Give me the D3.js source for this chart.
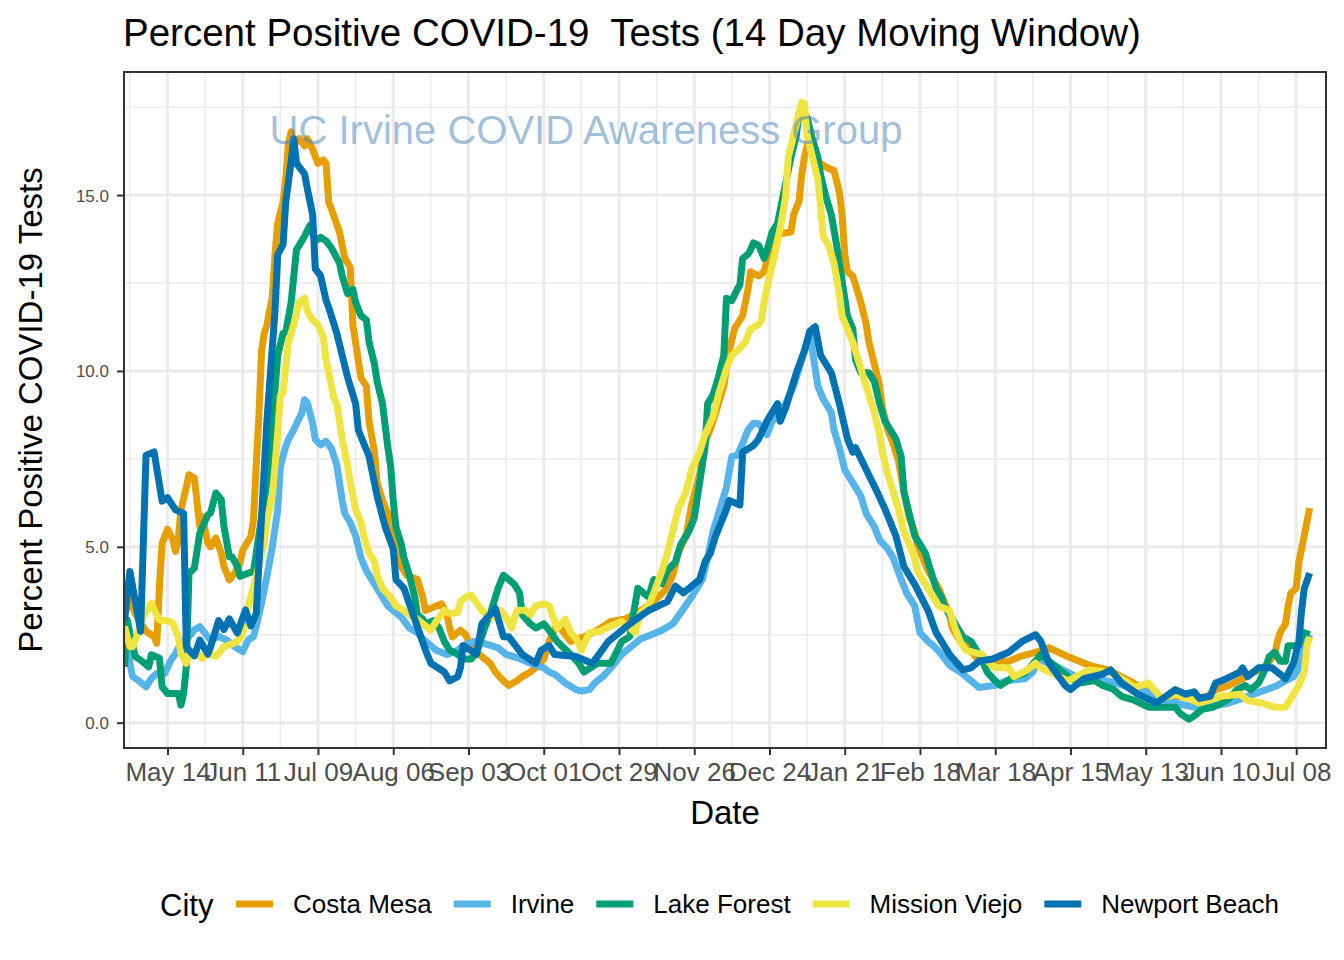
<!DOCTYPE html>
<html><head><meta charset="utf-8">
<script src="https://cdn.jsdelivr.net/npm/d3@7"></script>
<style>
body{margin:0;background:#fff}
text{font-family:"Liberation Sans",Arial,Helvetica,sans-serif}
</style>
</head><body>
<svg id="chart" width="1344" height="960"></svg>
<script>
const cities = ["Costa Mesa","Irvine","Lake Forest","Mission Viejo","Newport Beach"];
const cityColors = ["#E69F00","#56B4E9","#009E73","#F0E442","#0072B2"];

const costaMesa = [["2020-04-28",3.1],["2020-04-30",3.5],["2020-05-02",3.1],["2020-05-06",2.6],["2020-05-09",2.45],["2020-05-10",2.26],["2020-05-11",3.87],["2020-05-12",5.1],["2020-05-14",5.5],["2020-05-16",5.2],["2020-05-17",4.87],["2020-05-18",5.2],["2020-05-19",6.05],["2020-05-21",6.7],["2020-05-22",7.05],["2020-05-24",6.95],["2020-05-26",5.58],["2020-05-27",5.86],["2020-05-29",5.1],["2020-05-30",5.0],["2020-06-01",5.25],["2020-06-03",4.82],["2020-06-04",4.44],["2020-06-06",4.06],["2020-06-08",4.25],["2020-06-10",4.54],["2020-06-11",4.91],["2020-06-14",5.29],["2020-06-15",5.77],["2020-06-16",7.29],["2020-06-17",8.7],["2020-06-18",10.57],["2020-06-19",11.07],["2020-06-20",11.3],["2020-06-22",12.1],["2020-06-23",13.3],["2020-06-24",14.2],["2020-06-26",14.8],["2020-06-27",15.45],["2020-06-28",16.45],["2020-06-29",16.8],["2020-06-30",16.45],["2020-07-02",16.6],["2020-07-04",16.4],["2020-07-05",16.6],["2020-07-07",16.3],["2020-07-08",16.1],["2020-07-09",15.9],["2020-07-11",16.0],["2020-07-12",15.9],["2020-07-13",14.8],["2020-07-14",14.6],["2020-07-17",13.95],["2020-07-19",13.2],["2020-07-21",12.95],["2020-07-22",11.3],["2020-07-23",10.8],["2020-07-25",9.8],["2020-07-27",9.57],["2020-07-28",8.57],["2020-07-30",7.7],["2020-07-31",6.82],["2020-08-02",6.32],["2020-08-04",5.94],["2020-08-06",5.32],["2020-08-08",4.94],["2020-08-09",4.44],["2020-08-11",4.19],["2020-08-15",4.07],["2020-08-17",3.57],["2020-08-18",3.19],["2020-08-24",3.38],["2020-08-26",3.07],["2020-08-27",2.69],["2020-08-28",2.44],["2020-08-31",2.63],["2020-09-02",2.5],["2020-09-03",2.31],["2020-09-05",2.06],["2020-09-08",1.88],["2020-09-11",1.69],["2020-09-13",1.44],["2020-09-16",1.19],["2020-09-18",1.06],["2020-09-21",1.19],["2020-09-23",1.31],["2020-09-26",1.44],["2020-09-28",1.56],["2020-10-01",1.81],["2020-10-02",2.06],["2020-10-03",2.31],["2020-10-06",2.81],["2020-10-11",2.31],["2020-10-16",2.44],["2020-10-21",2.63],["2020-10-26",2.88],["2020-10-31",2.94],["2020-11-05",3.13],["2020-11-10",3.38],["2020-11-15",3.75],["2020-11-18",4.19],["2020-11-20",4.82],["2020-11-23",5.32],["2020-11-25",6.19],["2020-11-28",7.07],["2020-11-30",7.94],["2020-12-03",8.57],["2020-12-05",9.07],["2020-12-07",9.57],["2020-12-09",10.57],["2020-12-11",11.2],["2020-12-14",11.57],["2020-12-16",12.32],["2020-12-17",12.82],["2020-12-20",12.7],["2020-12-22",12.82],["2020-12-25",13.7],["2020-12-28",13.9],["2021-01-01",13.95],["2021-01-02",14.45],["2021-01-04",14.83],["2021-01-05",15.58],["2021-01-06",16.08],["2021-01-08",16.7],["2021-01-09",16.33],["2021-01-11",15.95],["2021-01-15",15.76],["2021-01-17",15.7],["2021-01-19",15.08],["2021-01-20",14.45],["2021-01-21",13.32],["2021-01-22",12.82],["2021-01-24",12.7],["2021-01-25",12.45],["2021-01-27",11.95],["2021-01-29",11.32],["2021-01-30",10.82],["2021-02-01",10.2],["2021-02-03",9.57],["2021-02-04",8.95],["2021-02-06",8.32],["2021-02-08",7.94],["2021-02-10",7.44],["2021-02-12",6.57],["2021-02-14",5.82],["2021-02-16",5.44],["2021-02-17",5.07],["2021-02-19",4.69],["2021-02-21",4.32],["2021-02-23",4.07],["2021-02-25",3.82],["2021-02-27",3.44],["2021-03-01",3.07],["2021-03-02",2.69],["2021-03-05",2.31],["2021-03-07",2.19],["2021-03-10",1.94],["2021-03-12",1.75],["2021-03-17",1.75],["2021-03-23",1.75],["2021-03-28",1.9],["2021-04-02",2.0],["2021-04-07",2.13],["2021-04-14",1.88],["2021-04-22",1.63],["2021-04-29",1.5],["2021-05-07",1.19],["2021-05-14",0.88],["2021-05-20",0.69],["2021-05-26",0.75],["2021-05-31",0.69],["2021-06-05",0.75],["2021-06-08",0.94],["2021-06-13",1.06],["2021-06-18",1.25],["2021-06-22",1.44],["2021-06-25",1.5],["2021-06-27",1.65],["2021-06-30",1.94],["2021-07-01",2.31],["2021-07-02",2.56],["2021-07-04",2.81],["2021-07-05",3.32],["2021-07-06",3.69],["2021-07-08",3.82],["2021-07-09",4.57],["2021-07-11",5.32],["2021-07-13",6.1]];

const irvine = [["2020-04-28",2.64],["2020-04-30",1.69],["2020-05-01",1.31],["2020-05-03",1.21],["2020-05-06",1.02],["2020-05-08",1.26],["2020-05-10",1.4],["2020-05-13",1.4],["2020-05-15",1.74],["2020-05-17",1.97],["2020-05-19",2.26],["2020-05-22",2.45],["2020-05-24",2.64],["2020-05-26",2.73],["2020-05-28",2.54],["2020-05-30",2.35],["2020-06-02",2.45],["2020-06-05",2.35],["2020-06-08",2.16],["2020-06-11",2.02],["2020-06-13",2.35],["2020-06-15",2.45],["2020-06-16",2.73],["2020-06-18",3.4],["2020-06-20",4.16],["2020-06-22",5.0],["2020-06-24",6.05],["2020-06-25",7.29],["2020-06-27",7.86],["2020-06-28",8.05],["2020-06-30",8.33],["2020-07-02",8.66],["2020-07-03",8.8],["2020-07-04",9.18],["2020-07-05",9.1],["2020-07-07",8.52],["2020-07-08",8.05],["2020-07-10",7.9],["2020-07-12",8.0],["2020-07-14",7.8],["2020-07-16",7.32],["2020-07-18",6.32],["2020-07-19",5.94],["2020-07-21",5.69],["2020-07-23",5.32],["2020-07-25",4.69],["2020-07-27",4.32],["2020-07-30",3.94],["2020-08-01",3.69],["2020-08-04",3.32],["2020-08-06",3.19],["2020-08-09",3.0],["2020-08-12",2.69],["2020-08-15",2.56],["2020-08-17",2.38],["2020-08-20",2.19],["2020-08-22",2.06],["2020-08-26",1.94],["2020-08-30",2.06],["2020-09-01",2.19],["2020-09-05",2.31],["2020-09-09",2.25],["2020-09-14",2.13],["2020-09-17",1.94],["2020-09-21",1.85],["2020-09-26",1.69],["2020-10-01",1.56],["2020-10-03",1.44],["2020-10-05",1.38],["2020-10-09",1.13],["2020-10-13",0.94],["2020-10-15",0.9],["2020-10-18",0.94],["2020-10-20",1.13],["2020-10-23",1.31],["2020-10-26",1.56],["2020-10-30",1.94],["2020-11-03",2.19],["2020-11-06",2.38],["2020-11-10",2.5],["2020-11-14",2.63],["2020-11-18",2.81],["2020-11-21",3.13],["2020-11-25",3.57],["2020-11-29",4.07],["2020-12-01",4.69],["2020-12-03",5.44],["2020-12-05",5.94],["2020-12-08",6.69],["2020-12-10",7.57],["2020-12-12",7.6],["2020-12-14",7.94],["2020-12-16",8.32],["2020-12-18",8.51],["2020-12-20",8.5],["2020-12-23",8.19],["2020-12-25",8.57],["2020-12-28",8.82],["2020-12-30",9.07],["2021-01-02",9.57],["2021-01-04",10.07],["2021-01-07",10.82],["2021-01-08",11.07],["2021-01-09",10.57],["2021-01-11",9.57],["2021-01-13",9.2],["2021-01-16",8.82],["2021-01-17",8.32],["2021-01-19",7.82],["2021-01-21",7.19],["2021-01-24",6.82],["2021-01-27",6.44],["2021-01-29",5.94],["2021-02-01",5.57],["2021-02-03",5.19],["2021-02-06",4.94],["2021-02-08",4.69],["2021-02-11",4.07],["2021-02-13",3.69],["2021-02-16",3.32],["2021-02-18",2.56],["2021-02-21",2.31],["2021-02-23",2.19],["2021-02-26",1.94],["2021-03-01",1.63],["2021-03-05",1.44],["2021-03-09",1.19],["2021-03-12",1.0],["2021-03-18",1.06],["2021-03-22",1.19],["2021-03-29",1.25],["2021-04-01",1.44],["2021-04-03",1.81],["2021-04-09",1.63],["2021-04-17",1.31],["2021-04-24",1.25],["2021-05-02",1.13],["2021-05-09",0.94],["2021-05-13",0.88],["2021-05-17",0.69],["2021-05-24",0.56],["2021-05-31",0.44],["2021-06-05",0.44],["2021-06-09",0.5],["2021-06-13",0.56],["2021-06-18",0.69],["2021-06-22",0.81],["2021-06-27",0.94],["2021-07-01",1.06],["2021-07-04",1.19],["2021-07-07",1.31],["2021-07-09",1.56],["2021-07-11",2.06],["2021-07-13",2.5]];

const lakeForest = [["2020-04-28",1.59],["2020-04-29",2.92],["2020-04-30",2.54],["2020-05-02",1.88],["2020-05-04",1.78],["2020-05-07",1.59],["2020-05-08",1.93],["2020-05-11",1.83],["2020-05-12",1.02],["2020-05-14",0.83],["2020-05-18",0.83],["2020-05-19",0.5],["2020-05-20",0.83],["2020-05-21",1.59],["2020-05-22",4.25],["2020-05-24",4.39],["2020-05-26",5.39],["2020-05-29",5.91],["2020-05-30",5.96],["2020-06-01",6.53],["2020-06-03",6.34],["2020-06-04",5.58],["2020-06-06",4.72],["2020-06-07",4.72],["2020-06-09",4.44],["2020-06-10",4.16],["2020-06-13",4.25],["2020-06-15",4.3],["2020-06-19",6.34],["2020-06-21",7.29],["2020-06-22",8.5],["2020-06-24",10.45],["2020-06-26",11.07],["2020-06-27",11.1],["2020-06-29",11.95],["2020-07-01",13.45],["2020-07-02",13.57],["2020-07-04",13.83],["2020-07-06",14.14],["2020-07-08",13.7],["2020-07-10",13.8],["2020-07-12",13.7],["2020-07-14",13.5],["2020-07-17",13.07],["2020-07-18",12.7],["2020-07-20",12.2],["2020-07-22",12.32],["2020-07-23",11.95],["2020-07-25",11.57],["2020-07-27",11.45],["2020-07-28",10.82],["2020-07-30",10.2],["2020-07-31",9.7],["2020-08-02",9.07],["2020-08-04",7.82],["2020-08-05",7.32],["2020-08-06",6.32],["2020-08-07",5.57],["2020-08-09",5.07],["2020-08-10",4.69],["2020-08-12",4.19],["2020-08-14",3.57],["2020-08-15",3.07],["2020-08-17",2.94],["2020-08-18",2.81],["2020-08-21",2.9],["2020-08-23",2.69],["2020-08-25",2.31],["2020-08-27",2.06],["2020-08-30",1.94],["2020-09-01",1.81],["2020-09-04",1.81],["2020-09-06",2.0],["2020-09-09",2.69],["2020-09-11",3.07],["2020-09-14",3.82],["2020-09-16",4.19],["2020-09-18",4.07],["2020-09-20",3.94],["2020-09-22",3.69],["2020-09-23",3.07],["2020-09-26",2.81],["2020-09-28",2.69],["2020-10-01",2.81],["2020-10-03",2.63],["2020-10-06",2.31],["2020-10-11",1.94],["2020-10-14",1.69],["2020-10-16",1.44],["2020-10-21",1.69],["2020-10-26",1.69],["2020-10-30",2.31],["2020-11-02",2.45],["2020-11-05",3.82],["2020-11-09",3.57],["2020-11-11",4.07],["2020-11-14",3.95],["2020-11-16",4.32],["2020-11-19",4.57],["2020-11-21",5.07],["2020-11-24",5.44],["2020-11-26",5.82],["2020-11-28",6.82],["2020-11-30",7.82],["2020-12-01",9.07],["2020-12-03",9.32],["2020-12-05",9.82],["2020-12-07",10.45],["2020-12-08",12.07],["2020-12-10",12.0],["2020-12-12",12.32],["2020-12-13",12.45],["2020-12-14",13.2],["2020-12-16",13.32],["2020-12-17",13.45],["2020-12-18",13.64],["2020-12-20",13.57],["2020-12-22",13.2],["2020-12-23",13.4],["2020-12-25",13.95],["2020-12-27",14.2],["2020-12-30",15.33],["2021-01-01",16.08],["2021-01-03",16.7],["2021-01-04",17.33],["2021-01-06",17.3],["2021-01-07",17.2],["2021-01-09",16.58],["2021-01-11",16.08],["2021-01-12",15.58],["2021-01-14",14.95],["2021-01-16",14.45],["2021-01-18",13.57],["2021-01-20",12.57],["2021-01-22",11.57],["2021-01-24",11.2],["2021-01-25",10.32],["2021-01-27",9.95],["2021-01-30",9.95],["2021-02-01",9.7],["2021-02-03",9.07],["2021-02-05",8.57],["2021-02-07",8.32],["2021-02-09",8.07],["2021-02-11",7.57],["2021-02-12",6.57],["2021-02-14",5.94],["2021-02-16",5.32],["2021-02-18",5.07],["2021-02-20",4.82],["2021-02-22",4.32],["2021-02-24",3.82],["2021-02-26",3.57],["2021-02-27",3.32],["2021-03-01",3.07],["2021-03-04",2.69],["2021-03-06",2.44],["2021-03-09",2.31],["2021-03-11",2.06],["2021-03-13",1.8],["2021-03-15",1.44],["2021-03-18",1.19],["2021-03-20",1.06],["2021-03-25",1.31],["2021-03-29",1.4],["2021-04-02",1.75],["2021-04-04",1.94],["2021-04-09",1.63],["2021-04-14",1.31],["2021-04-19",1.13],["2021-04-24",1.2],["2021-04-27",1.06],["2021-05-01",0.95],["2021-05-04",0.75],["2021-05-09",0.63],["2021-05-14",0.44],["2021-05-19",0.44],["2021-05-24",0.44],["2021-05-26",0.25],["2021-05-29",0.1],["2021-05-31",0.19],["2021-06-03",0.38],["2021-06-07",0.44],["2021-06-10",0.55],["2021-06-13",0.69],["2021-06-16",0.94],["2021-06-19",1.06],["2021-06-21",0.94],["2021-06-24",1.13],["2021-06-26",1.44],["2021-06-28",1.88],["2021-06-30",2.0],["2021-07-02",1.75],["2021-07-04",1.75],["2021-07-05",2.19],["2021-07-09",2.19],["2021-07-10",2.44],["2021-07-11",2.56],["2021-07-13",2.5]];

const missionViejo = [["2020-04-28",2.73],["2020-04-30",2.16],["2020-05-01",2.16],["2020-05-03",2.54],["2020-05-05",3.02],["2020-05-08",3.4],["2020-05-09",3.21],["2020-05-11",2.92],["2020-05-14",2.9],["2020-05-16",2.83],["2020-05-18",2.45],["2020-05-19",1.97],["2020-05-21",1.69],["2020-05-22",1.97],["2020-05-25",1.97],["2020-05-27",1.83],["2020-05-29",1.97],["2020-06-01",1.88],["2020-06-04",2.16],["2020-06-06",2.21],["2020-06-09",2.31],["2020-06-11",2.54],["2020-06-13",3.3],["2020-06-15",3.87],["2020-06-17",4.44],["2020-06-19",5.1],["2020-06-20",5.77],["2020-06-22",6.43],["2020-06-23",7.29],["2020-06-24",8.24],["2020-06-25",9.3],["2020-06-26",9.38],["2020-06-28",10.82],["2020-06-30",11.32],["2020-07-02",11.95],["2020-07-04",12.07],["2020-07-05",11.7],["2020-07-07",11.45],["2020-07-09",11.32],["2020-07-11",10.95],["2020-07-12",10.32],["2020-07-14",9.57],["2020-07-15",9.2],["2020-07-16",9.07],["2020-07-17",8.57],["2020-07-18",8.07],["2020-07-20",7.32],["2020-07-21",6.82],["2020-07-23",6.07],["2020-07-25",5.69],["2020-07-26",5.32],["2020-07-28",4.82],["2020-07-30",4.57],["2020-07-31",4.19],["2020-08-02",3.82],["2020-08-05",3.57],["2020-08-07",3.32],["2020-08-10",3.19],["2020-08-12",3.07],["2020-08-15",2.94],["2020-08-17",2.81],["2020-08-20",2.63],["2020-08-22",2.88],["2020-08-25",3.19],["2020-08-27",3.1],["2020-08-30",3.13],["2020-08-31",3.44],["2020-09-02",3.57],["2020-09-04",3.63],["2020-09-06",3.4],["2020-09-08",3.19],["2020-09-10",3.07],["2020-09-12",3.0],["2020-09-15",3.19],["2020-09-17",3.0],["2020-09-19",2.69],["2020-09-21",3.19],["2020-09-24",3.2],["2020-09-26",3.07],["2020-09-28",3.32],["2020-10-01",3.38],["2020-10-03",3.32],["2020-10-06",2.69],["2020-10-09",2.94],["2020-10-11",2.56],["2020-10-13",2.4],["2020-10-15",2.06],["2020-10-18",2.56],["2020-10-22",2.6],["2020-10-26",2.75],["2020-10-30",2.88],["2020-11-02",2.7],["2020-11-04",2.56],["2020-11-06",3.13],["2020-11-09",3.32],["2020-11-11",3.69],["2020-11-14",4.32],["2020-11-16",4.82],["2020-11-18",5.44],["2020-11-20",6.07],["2020-11-23",6.57],["2020-11-25",7.19],["2020-11-28",7.69],["2020-11-30",8.19],["2020-12-03",8.7],["2020-12-05",9.32],["2020-12-08",10.07],["2020-12-10",10.45],["2020-12-12",10.57],["2020-12-15",10.82],["2020-12-17",11.2],["2020-12-20",11.32],["2020-12-21",11.45],["2020-12-22",11.95],["2020-12-24",12.7],["2020-12-26",13.32],["2020-12-28",14.07],["2020-12-30",14.95],["2020-12-31",16.08],["2021-01-02",16.7],["2021-01-04",17.33],["2021-01-05",17.64],["2021-01-06",17.6],["2021-01-07",16.7],["2021-01-09",16.08],["2021-01-11",15.45],["2021-01-12",14.7],["2021-01-13",13.83],["2021-01-15",13.57],["2021-01-17",13.07],["2021-01-19",12.2],["2021-01-20",11.57],["2021-01-22",11.2],["2021-01-24",10.82],["2021-01-26",10.32],["2021-01-28",9.82],["2021-01-30",9.32],["2021-02-01",8.82],["2021-02-03",8.19],["2021-02-04",7.69],["2021-02-06",7.07],["2021-02-08",6.57],["2021-02-10",6.07],["2021-02-12",5.44],["2021-02-14",5.07],["2021-02-16",4.69],["2021-02-17",4.32],["2021-02-19",4.07],["2021-02-21",3.82],["2021-02-23",3.57],["2021-02-25",3.32],["2021-02-27",3.25],["2021-03-01",3.19],["2021-03-03",2.69],["2021-03-05",2.31],["2021-03-07",2.06],["2021-03-10",2.0],["2021-03-13",1.94],["2021-03-15",1.75],["2021-03-18",1.56],["2021-03-23",1.56],["2021-03-25",1.31],["2021-03-30",1.5],["2021-04-02",1.69],["2021-04-04",1.55],["2021-04-09",1.38],["2021-04-14",1.19],["2021-04-22",1.5],["2021-04-29",1.45],["2021-05-04",1.25],["2021-05-09",1.0],["2021-05-14",1.13],["2021-05-19",0.69],["2021-05-24",0.81],["2021-05-29",0.69],["2021-06-02",0.56],["2021-06-10",0.75],["2021-06-17",0.81],["2021-06-20",0.63],["2021-06-25",0.56],["2021-06-30",0.44],["2021-07-04",0.44],["2021-07-07",0.81],["2021-07-09",1.06],["2021-07-11",1.44],["2021-07-12",2.19],["2021-07-13",2.44]];

const newportBeach = [["2020-04-28",2.9],["2020-04-30",4.3],["2020-05-04",2.6],["2020-05-06",7.6],["2020-05-09",7.7],["2020-05-12",6.3],["2020-05-14",6.4],["2020-05-17",6.05],["2020-05-20",5.95],["2020-05-21",2.15],["2020-05-24",1.9],["2020-05-26",2.35],["2020-05-29",1.95],["2020-05-30",2.15],["2020-06-02",2.9],["2020-06-04",2.65],["2020-06-06",2.95],["2020-06-09",2.55],["2020-06-12",3.2],["2020-06-14",2.75],["2020-06-16",3.1],["2020-06-20",8.6],["2020-06-23",11.7],["2020-06-24",13.3],["2020-06-26",13.6],["2020-06-27",14.8],["2020-06-29",15.95],["2020-06-30",16.6],["2020-07-01",15.9],["2020-07-02",15.8],["2020-07-04",15.6],["2020-07-05",15.2],["2020-07-07",14.45],["2020-07-08",12.9],["2020-07-10",12.7],["2020-07-12",12.0],["2020-07-13",11.8],["2020-07-16",11.07],["2020-07-20",9.82],["2020-07-23",9.07],["2020-07-24",8.32],["2020-07-28",7.57],["2020-07-31",6.44],["2020-08-03",5.57],["2020-08-06",4.94],["2020-08-07",4.07],["2020-08-10",3.82],["2020-08-14",2.94],["2020-08-18",2.06],["2020-08-20",1.69],["2020-08-25",1.44],["2020-08-27",1.19],["2020-08-30",1.31],["2020-08-31",1.56],["2020-09-01",2.19],["2020-09-06",1.94],["2020-09-08",2.81],["2020-09-13",3.25],["2020-09-16",2.44],["2020-09-18",2.44],["2020-09-23",1.94],["2020-09-28",1.69],["2020-09-30",2.06],["2020-10-03",2.19],["2020-10-05",1.94],["2020-10-13",1.88],["2020-10-19",1.69],["2020-10-21",1.88],["2020-10-25",2.31],["2020-11-02",2.81],["2020-11-09",3.19],["2020-11-16",3.44],["2020-11-19",3.88],["2020-11-22",3.69],["2020-11-28",4.07],["2020-11-30",4.57],["2020-12-02",4.82],["2020-12-04",5.32],["2020-12-08",6.07],["2020-12-09",6.32],["2020-12-13",6.19],["2020-12-14",7.69],["2020-12-18",7.88],["2020-12-20",8.07],["2020-12-22",8.4],["2020-12-23",8.57],["2020-12-27",9.07],["2020-12-28",8.57],["2020-12-30",8.95],["2021-01-03",9.95],["2021-01-06",10.57],["2021-01-08",11.13],["2021-01-10",11.26],["2021-01-12",10.45],["2021-01-16",9.95],["2021-01-19",9.07],["2021-01-22",8.07],["2021-01-24",7.69],["2021-01-25",7.82],["2021-01-29",7.19],["2021-02-02",6.57],["2021-02-05",6.07],["2021-02-09",5.32],["2021-02-12",4.44],["2021-02-16",3.94],["2021-02-21",3.19],["2021-02-24",2.56],["2021-03-01",1.94],["2021-03-06",1.5],["2021-03-09",1.56],["2021-03-12",1.75],["2021-03-17",1.81],["2021-03-23",2.0],["2021-03-28",2.31],["2021-04-02",2.5],["2021-04-04",2.31],["2021-04-07",1.69],["2021-04-13",1.06],["2021-04-15",0.94],["2021-04-20",1.25],["2021-04-27",1.38],["2021-04-30",1.5],["2021-05-04",1.13],["2021-05-10",0.81],["2021-05-17",0.56],["2021-05-24",0.94],["2021-05-28",0.81],["2021-05-31",0.88],["2021-06-02",0.69],["2021-06-06",0.75],["2021-06-08",1.13],["2021-06-12",1.25],["2021-06-17",1.44],["2021-06-18",1.56],["2021-06-20",1.31],["2021-06-24",1.56],["2021-06-29",1.56],["2021-07-02",1.38],["2021-07-04",1.25],["2021-07-07",1.69],["2021-07-09",2.31],["2021-07-10",3.19],["2021-07-11",3.82],["2021-07-13",4.25]];

const seriesData = [costaMesa, irvine, lakeForest, missionViejo, newportBeach];

const xTickDates = ["2020-05-14","2020-06-11","2020-07-09","2020-08-06","2020-09-03","2020-10-01","2020-10-29","2020-11-26","2020-12-24","2021-01-21","2021-02-18","2021-03-18","2021-04-15","2021-05-13","2021-06-10","2021-07-08"];
const xTickLabels = ["May 14","Jun 11","Jul 09","Aug 06","Sep 03","Oct 01","Oct 29","Nov 26","Dec 24","Jan 21","Feb 18","Mar 18","Apr 15","May 13","Jun 10","Jul 08"];
const yTicks = [0, 5, 10, 15];
const yTickLabels = ["0.0", "5.0", "10.0", "15.0"];
const yMinorTicks = [2.5, 7.5, 12.5, 17.5];
const xDomain = ["2020-04-27T19:30:00", "2021-07-19T02:00:00"];
const yDomain = [-0.72, 18.5];

const titleText = "Percent Positive COVID-19  Tests (14 Day Moving Window)";
const watermarkText = "UC Irvine COVID Awareness Group";
const xTitle = "Date";
const yTitle = "Percent Positive COVID-19 Tests";
const legendTitle = "City";

// ---- layout ----
const P = {left: 124, right: 1326, top: 72, bottom: 748};
const parseDay = d3.utcParse("%Y-%m-%d");
const parseFull = d3.utcParse("%Y-%m-%dT%H:%M:%S");

const x = d3.scaleUtc().domain(xDomain.map(parseFull)).range([P.left, P.right]);
const y = d3.scaleLinear().domain(yDomain).range([P.bottom, P.top]);

const svg = d3.select("#chart");
svg.append("rect").attr("width",1344).attr("height",960).attr("fill","#fff");

svg.append("defs").append("clipPath").attr("id","panelClip")
  .append("rect").attr("x",P.left).attr("y",P.top).attr("width",P.right-P.left).attr("height",P.bottom-P.top);

const grid = svg.append("g");
const tickDates = xTickDates.map(parseDay);
const minorX = tickDates.map(d => d3.utcDay.offset(d, -14));
minorX.push(d3.utcDay.offset(tickDates[tickDates.length-1], 14));
const xd = x.domain();
const minorXIn = minorX.filter(d => d >= xd[0] && d <= xd[1]);

grid.selectAll(".ymin").data(yMinorTicks.filter(v => v>=yDomain[0] && v<=yDomain[1])).join("line")
  .attr("x1",P.left).attr("x2",P.right).attr("y1",d=>y(d)).attr("y2",d=>y(d))
  .attr("stroke","#EBEBEB").attr("stroke-width",1.5);
grid.selectAll(".xmin").data(minorXIn).join("line")
  .attr("y1",P.top).attr("y2",P.bottom).attr("x1",d=>x(d)).attr("x2",d=>x(d))
  .attr("stroke","#EBEBEB").attr("stroke-width",1.5);
grid.selectAll(".ymaj").data(yTicks).join("line")
  .attr("x1",P.left).attr("x2",P.right).attr("y1",d=>y(d)).attr("y2",d=>y(d))
  .attr("stroke","#EBEBEB").attr("stroke-width",3);
grid.selectAll(".xmaj").data(tickDates).join("line")
  .attr("y1",P.top).attr("y2",P.bottom).attr("x1",d=>x(d)).attr("x2",d=>x(d))
  .attr("stroke","#EBEBEB").attr("stroke-width",3);

// ---- lines ----
const line = d3.line().x(d => x(parseDay(d[0]))).y(d => y(d[1]));
const lines = svg.append("g").attr("clip-path","url(#panelClip)");
seriesData.forEach((s, i) => {
  lines.append("path").attr("d", line(s)).attr("fill","none")
    .attr("stroke", cityColors[i]).attr("stroke-width", 7)
    .attr("stroke-linejoin","round").attr("stroke-linecap","butt");
});

// ---- watermark ----
svg.append("text").attr("x",586).attr("y",144).attr("text-anchor","middle")
  .attr("font-size",40).attr("fill","#4682B4").attr("fill-opacity",0.5).text(watermarkText);

// ---- border ----
svg.append("rect").attr("x",P.left).attr("y",P.top).attr("width",P.right-P.left).attr("height",P.bottom-P.top)
  .attr("fill","none").attr("stroke","#333333").attr("stroke-width",2);

// ---- axes ----
const xAxis = d3.axisBottom(x).tickValues(tickDates).tickSize(7).tickPadding(6)
  .tickFormat((d,i) => xTickLabels[i]);
const gx = svg.append("g").attr("transform",`translate(0,${P.bottom})`).call(xAxis);
gx.select(".domain").remove();
gx.selectAll(".tick line").attr("stroke","#333333").attr("stroke-width",2);
gx.selectAll(".tick text").attr("font-size",26).attr("fill","#4D4D4D")
  .attr("font-family","'Liberation Sans',Arial,Helvetica,sans-serif").attr("dy","0.78em");

const yAxis = d3.axisLeft(y).tickValues(yTicks).tickSize(7).tickPadding(8)
  .tickFormat((d,i) => yTickLabels[i]);
const gy = svg.append("g").attr("transform",`translate(${P.left},0)`).call(yAxis);
gy.select(".domain").remove();
gy.selectAll(".tick line").attr("stroke","#333333").attr("stroke-width",2);
gy.selectAll(".tick text").attr("font-size",17).attr("fill","#4D4D4D")
  .attr("font-family","'Liberation Sans',Arial,Helvetica,sans-serif").attr("dy","0.35em");

// ---- titles ----
svg.append("text").attr("x",123).attr("y",46).attr("font-size",38.5).attr("fill","#000")
  .style("white-space","pre").text(titleText);
svg.append("text").attr("x",(P.left+P.right)/2).attr("y",824).attr("text-anchor","middle")
  .attr("font-size",33).attr("fill","#000").text(xTitle);
svg.append("text").attr("transform",`translate(42,${(P.top+P.bottom)/2}) rotate(-90)`)
  .attr("text-anchor","middle").attr("font-size",33).attr("fill","#000").text(yTitle);

// ---- legend ----
const lg = svg.append("g");
lg.append("text").attr("x",160).attr("y",916).attr("font-size",31).attr("fill","#000").text(legendTitle);
let lx = 236;
const ly = 904;
cities.forEach((c, i) => {
  lg.append("line").attr("x1",lx).attr("x2",lx+37).attr("y1",ly).attr("y2",ly)
    .attr("stroke",cityColors[i]).attr("stroke-width",7);
  const t = lg.append("text").attr("x",lx+57).attr("y",ly+9).attr("font-size",26).attr("fill","#000").text(c);
  const w = t.node().getComputedTextLength();
  lx = lx + 57 + w + 22;
});
</script>
</body></html>
